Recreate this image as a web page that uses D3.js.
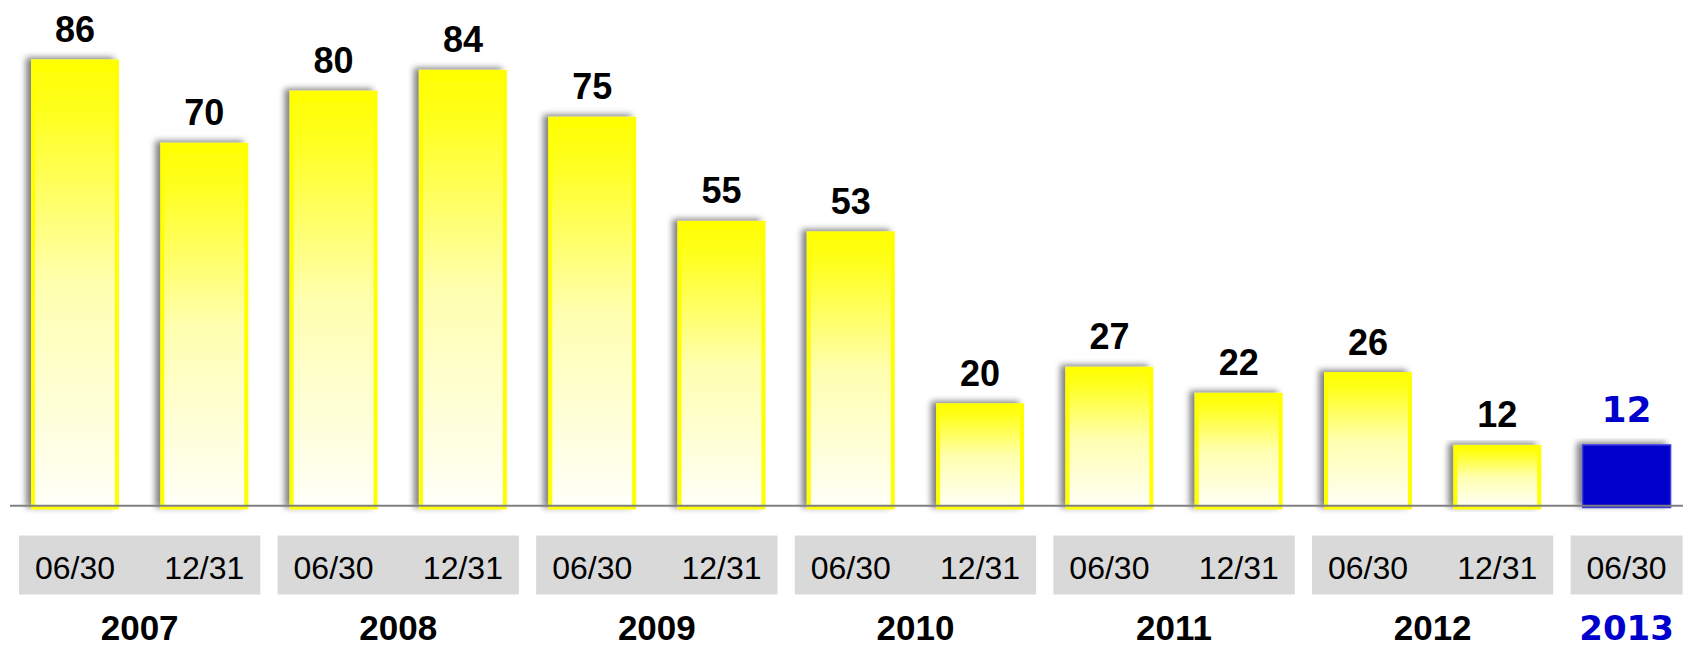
<!DOCTYPE html>
<html>
<head>
<meta charset="utf-8">
<script src="https://cdn.jsdelivr.net/npm/d3@7/dist/d3.min.js"></script>
<style>
  html, body { margin: 0; padding: 0; background: #ffffff; }
  svg { display: block; }
</style>
</head>
<body>
<svg id="chart" width="1683" height="647"></svg>
<script>
// Half-year reporting dates and the count recorded at each one
const periods = ["06/30", "12/31", "06/30", "12/31", "06/30", "12/31", "06/30",
                 "12/31", "06/30", "12/31", "06/30", "12/31", "06/30"];
const periodYears = ["2007", "2007", "2008", "2008", "2009", "2009", "2010",
                     "2010", "2011", "2011", "2012", "2012", "2013"];
const values = [86, 70, 80, 84, 75, 55, 53, 20, 27, 22, 26, 12, 12];
const yearLabels = ["2007", "2008", "2009", "2010", "2011", "2012", "2013"];
const currentYear = "2013";

const W = 1683, H = 647;
const svg = d3.select("#chart");

const keys = periods.map((p, i) => periodYears[i] + "-" + p);
const x = d3.scaleBand()
  .domain(keys)
  .range([10.35, 1691.25])
  .paddingInner(0.32)
  .paddingOuter(0.16);
const bw = x.bandwidth();

const y = d3.scaleLinear().domain([0, 100]).range([507.5, -13.5]);

const defs = svg.append("defs");

// yellow fading to white, per bar
const grad = defs.append("linearGradient")
  .attr("id", "barFill")
  .attr("x1", 0).attr("y1", 0).attr("x2", 0).attr("y2", 1);
grad.append("stop").attr("offset", 0).attr("stop-color", "#ffff00");
grad.append("stop").attr("offset", 0.12).attr("stop-color", "#ffff22");
grad.append("stop").attr("offset", 0.5).attr("stop-color", "#ffffb0");
grad.append("stop").attr("offset", 1).attr("stop-color", "#fffff8");

// soft shadow thrown up and to the left
const f = defs.append("filter").attr("id", "shadow")
  .attr("x", "-30%").attr("y", "-10%").attr("width", "160%").attr("height", "120%");
f.append("feGaussianBlur").attr("in", "SourceAlpha").attr("stdDeviation", 3).attr("result", "b");
f.append("feOffset").attr("in", "b").attr("dx", -5).attr("dy", -2).attr("result", "o");
f.append("feComponentTransfer").attr("in", "o").attr("result", "s")
  .append("feFuncA").attr("type", "linear").attr("slope", 0.5);
const m = f.append("feMerge");
m.append("feMergeNode").attr("in", "s");
m.append("feMergeNode").attr("in", "SourceGraphic");

const rows = values.map((v, i) => ({
  key: keys[i], period: periods[i], year: periodYears[i], value: v,
  current: periodYears[i] === currentYear
}));

// bars
svg.append("g").selectAll("rect")
  .data(rows)
  .join("rect")
  .attr("x", d => d.current ? x(d.key) : x(d.key) + 2)
  .attr("y", d => d.current ? y(d.value) : y(d.value) + 2)
  .attr("width", d => d.current ? bw : bw - 4)
  .attr("height", d => d.current ? y(0) - y(d.value) : y(0) - y(d.value) - 2)
  .attr("fill", d => d.current ? "#0000cc" : "url(#barFill)")
  .attr("stroke", d => d.current ? "#3b3bdc" : "#ffff00")
  .attr("stroke-width", d => d.current ? 1.5 : 4)
  .attr("filter", "url(#shadow)");

// baseline
svg.append("line")
  .attr("x1", 10).attr("x2", W)
  .attr("y1", 505.8).attr("y2", 505.8)
  .attr("stroke", "#808080").attr("stroke-width", 2);

// value labels
svg.append("g").selectAll("text")
  .data(rows)
  .join("text")
  .attr("x", d => x(d.key) + bw / 2)
  .attr("y", d => y(d.value) - (d.current ? 22.5 : 17.5))
  .attr("text-anchor", "middle")
  .attr("font-family", d => d.current ? "'DejaVu Sans', Verdana, sans-serif" : "'Liberation Sans', Arial, sans-serif")
  .attr("font-weight", "bold")
  .attr("font-size", d => d.current ? 36 : 36)
  .attr("fill", d => d.current ? "#0000cc" : "#000000")
  .text(d => d.value);

// grey year boxes behind the date labels
const groups = yearLabels.map(yr => {
  const ks = rows.filter(r => r.year === yr).map(r => r.key);
  const first = x(ks[0]) + bw / 2, last = x(ks[ks.length - 1]) + bw / 2;
  return { year: yr, x0: first - 56, x1: last + 56, cx: (first + last) / 2 };
});

svg.append("g").selectAll("rect")
  .data(groups)
  .join("rect")
  .attr("x", d => d.x0)
  .attr("y", 535.5)
  .attr("width", d => d.x1 - d.x0)
  .attr("height", 59)
  .attr("fill", "#d9d9d9");

// date labels
svg.append("g").selectAll("text")
  .data(rows)
  .join("text")
  .attr("x", d => x(d.key) + bw / 2)
  .attr("y", 579)
  .attr("text-anchor", "middle")
  .attr("font-family", "'Liberation Sans', Arial, sans-serif")
  .attr("font-size", 32)
  .attr("fill", "#000000")
  .text(d => d.period);

// year labels
svg.append("g").selectAll("text")
  .data(groups)
  .join("text")
  .attr("x", d => d.cx)
  .attr("y", 640)
  .attr("text-anchor", "middle")
  .attr("font-family", d => d.year === currentYear ? "'DejaVu Sans', Verdana, sans-serif" : "'Liberation Sans', Arial, sans-serif")
  .attr("font-weight", "bold")
  .attr("font-size", d => d.year === currentYear ? 34 : 35)
  .attr("fill", d => d.year === currentYear ? "#0000cc" : "#000000")
  .text(d => d.year);
</script>
</body>
</html>
